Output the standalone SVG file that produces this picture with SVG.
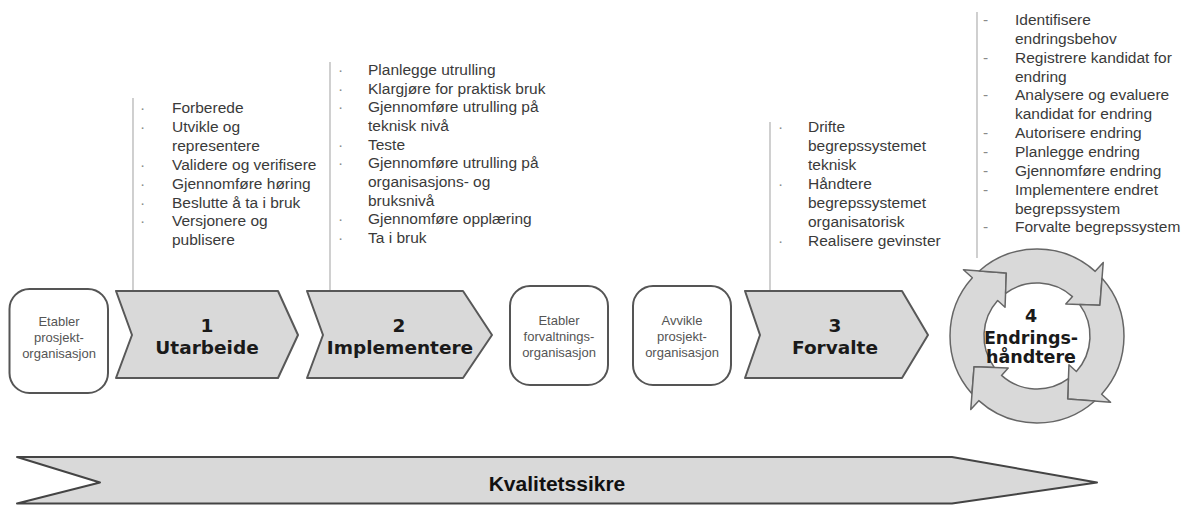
<svg xmlns="http://www.w3.org/2000/svg" xmlns:xlink="http://www.w3.org/1999/xlink" width="1187" height="506" viewBox="0 0 1187 506">
<style>
.chev{fill:#d9d9d9;stroke:#585858;stroke-width:2;stroke-linejoin:round}
.box{fill:#ffffff;stroke:#555555;stroke-width:2}
.btxt{font-family:"Liberation Sans",Arial,sans-serif;font-size:13px;fill:#555555;text-anchor:middle}
.ctxt{font-family:"DejaVu Sans",Verdana,sans-serif;font-weight:bold;font-size:18.5px;fill:#1a1a1a;text-anchor:middle}
.list{font-family:"Liberation Sans",Arial,sans-serif;font-size:15.5px;fill:#3a3a3a}
.bul{font-family:"Liberation Sans",Arial,sans-serif;font-size:15.5px;fill:#8a8a8a}
.vline{stroke:#b0b0b0;stroke-width:1.2;fill:none}
.ring{fill:#d9d9d9;stroke:#666666;stroke-width:1.5;stroke-linejoin:round}
</style>
<defs>
<path id="cyc" class="ring" d="M 971.94 393.76 A 87 87 0 0 1 972.35 277.79 L 963.43 269.76 L 1006.31 273.08 L 1005.05 307.23 L 997.62 300.54 A 53 53 0 0 0 994.29 367.38 L 974.08 366.69 Z"/>
</defs>
<rect width="1187" height="506" fill="#ffffff"/>

<g id="connectors">
<line class="vline" x1="133" y1="98" x2="133" y2="291"/>
<line class="vline" x1="330" y1="62" x2="330" y2="291"/>
<line class="vline" x1="770" y1="122" x2="770" y2="291"/>
<line class="vline" x1="977" y1="12" x2="977" y2="258"/>
</g>

<g id="list1">
<text class="bul" x="140" y="113">·</text><text class="list" x="172" y="113">Forberede</text>
<text class="bul" x="140" y="131.9">·</text><text class="list" x="172" y="131.9">Utvikle og</text>
<text class="list" x="172" y="150.8">representere</text>
<text class="bul" x="140" y="169.7">·</text><text class="list" x="172" y="169.7">Validere og verifisere</text>
<text class="bul" x="140" y="188.6">·</text><text class="list" x="172" y="188.6">Gjennomføre høring</text>
<text class="bul" x="140" y="207.5">·</text><text class="list" x="172" y="207.5">Beslutte å ta i bruk</text>
<text class="bul" x="140" y="226.4">·</text><text class="list" x="172" y="226.4">Versjonere og</text>
<text class="list" x="172" y="245.3">publisere</text>
</g>

<g id="list2">
<text class="bul" x="338" y="75">·</text><text class="list" x="368" y="75">Planlegge utrulling</text>
<text class="bul" x="338" y="93.7">·</text><text class="list" x="368" y="93.7">Klargjøre for praktisk bruk</text>
<text class="bul" x="338" y="112.3">·</text><text class="list" x="368" y="112.3">Gjennomføre utrulling på</text>
<text class="list" x="368" y="131">teknisk nivå</text>
<text class="bul" x="338" y="149.7">·</text><text class="list" x="368" y="149.7">Teste</text>
<text class="bul" x="338" y="168.3">·</text><text class="list" x="368" y="168.3">Gjennomføre utrulling på</text>
<text class="list" x="368" y="187">organisasjons- og</text>
<text class="list" x="368" y="205.7">bruksnivå</text>
<text class="bul" x="338" y="224.3">·</text><text class="list" x="368" y="224.3">Gjennomføre opplæring</text>
<text class="bul" x="338" y="243">·</text><text class="list" x="368" y="243">Ta i bruk</text>
</g>

<g id="list3">
<text class="bul" x="778" y="132">·</text><text class="list" x="808" y="132">Drifte</text>
<text class="list" x="808" y="151">begrepssystemet</text>
<text class="list" x="808" y="170">teknisk</text>
<text class="bul" x="778" y="189">·</text><text class="list" x="808" y="189">Håndtere</text>
<text class="list" x="808" y="208">begrepssystemet</text>
<text class="list" x="808" y="227">organisatorisk</text>
<text class="bul" x="778" y="246">·</text><text class="list" x="808" y="246">Realisere gevinster</text>
</g>

<g id="list4">
<text class="bul" x="983" y="25">-</text><text class="list" x="1015" y="25">Identifisere</text>
<text class="list" x="1015" y="43.85">endringsbehov</text>
<text class="bul" x="983" y="62.7">-</text><text class="list" x="1015" y="62.7">Registrere kandidat for</text>
<text class="list" x="1015" y="81.55">endring</text>
<text class="bul" x="983" y="100.4">-</text><text class="list" x="1015" y="100.4">Analysere og evaluere</text>
<text class="list" x="1015" y="119.25">kandidat for endring</text>
<text class="bul" x="983" y="138.1">-</text><text class="list" x="1015" y="138.1">Autorisere endring</text>
<text class="bul" x="983" y="156.95">-</text><text class="list" x="1015" y="156.95">Planlegge endring</text>
<text class="bul" x="983" y="175.8">-</text><text class="list" x="1015" y="175.8">Gjennomføre endring</text>
<text class="bul" x="983" y="194.65">-</text><text class="list" x="1015" y="194.65">Implementere endret</text>
<text class="list" x="1015" y="213.5">begrepssystem</text>
<text class="bul" x="983" y="232.35">-</text><text class="list" x="1015" y="232.35">Forvalte begrepssystem</text>
</g>

<g id="box1">
<rect class="box" x="9.5" y="289" width="98.5" height="104" rx="20"/>
<text class="btxt" x="59" y="326">Etabler</text>
<text class="btxt" x="59" y="342">prosjekt-</text>
<text class="btxt" x="59" y="358">organisasjon</text>
</g>

<g id="chevron1">
<polygon class="chev" points="116,291 278,291 298,335 278,378 116,378 132,335"/>
<text class="ctxt" x="207" y="332">1</text>
<text class="ctxt" x="207" y="354">Utarbeide</text>
</g>

<g id="chevron2">
<polygon class="chev" points="307,291 463,291 492,335 463,378 307,378 323,335"/>
<text class="ctxt" x="399" y="332">2</text>
<text class="ctxt" x="400" y="354">Implementere</text>
</g>

<g id="box2">
<rect class="box" x="510" y="286" width="98" height="99" rx="20"/>
<text class="btxt" x="559" y="324.5">Etabler</text>
<text class="btxt" x="559" y="340.5">forvaltnings-</text>
<text class="btxt" x="559" y="356.5">organisasjon</text>
</g>

<g id="box3">
<rect class="box" x="633" y="286" width="98" height="99" rx="20"/>
<text class="btxt" x="682" y="324.5">Avvikle</text>
<text class="btxt" x="682" y="340.5">prosjekt-</text>
<text class="btxt" x="682" y="356.5">organisasjon</text>
</g>

<g id="chevron3">
<polygon class="chev" points="745,291 902,291 928,335 902,378 745,378 760,335"/>
<text class="ctxt" x="835" y="332">3</text>
<text class="ctxt" x="835" y="354">Forvalte</text>
</g>

<g id="cycle4">
<use xlink:href="#cyc"/>
<use xlink:href="#cyc" transform="rotate(90 1037 336)"/>
<use xlink:href="#cyc" transform="rotate(180 1037 336)"/>
<use xlink:href="#cyc" transform="rotate(270 1037 336)"/>
<text class="ctxt" x="1031" y="321.5" style="font-size:17.5px">4</text>
<text class="ctxt" x="1031" y="343.5" style="font-size:17.5px">Endrings-</text>
<text class="ctxt" x="1031" y="363" style="font-size:17.5px">håndtere</text>
</g>

<g id="kvalitetssikre">
<polygon class="chev" points="17,457 952,457 1097,482.5 952,503.5 17,503.5 100,482.5" style="stroke:#444444"/>
<text x="557" y="490.5" style="font-family:'Liberation Sans',Arial,sans-serif;font-weight:bold;font-size:21px;fill:#111111;text-anchor:middle">Kvalitetssikre</text>
</g>
</svg>
